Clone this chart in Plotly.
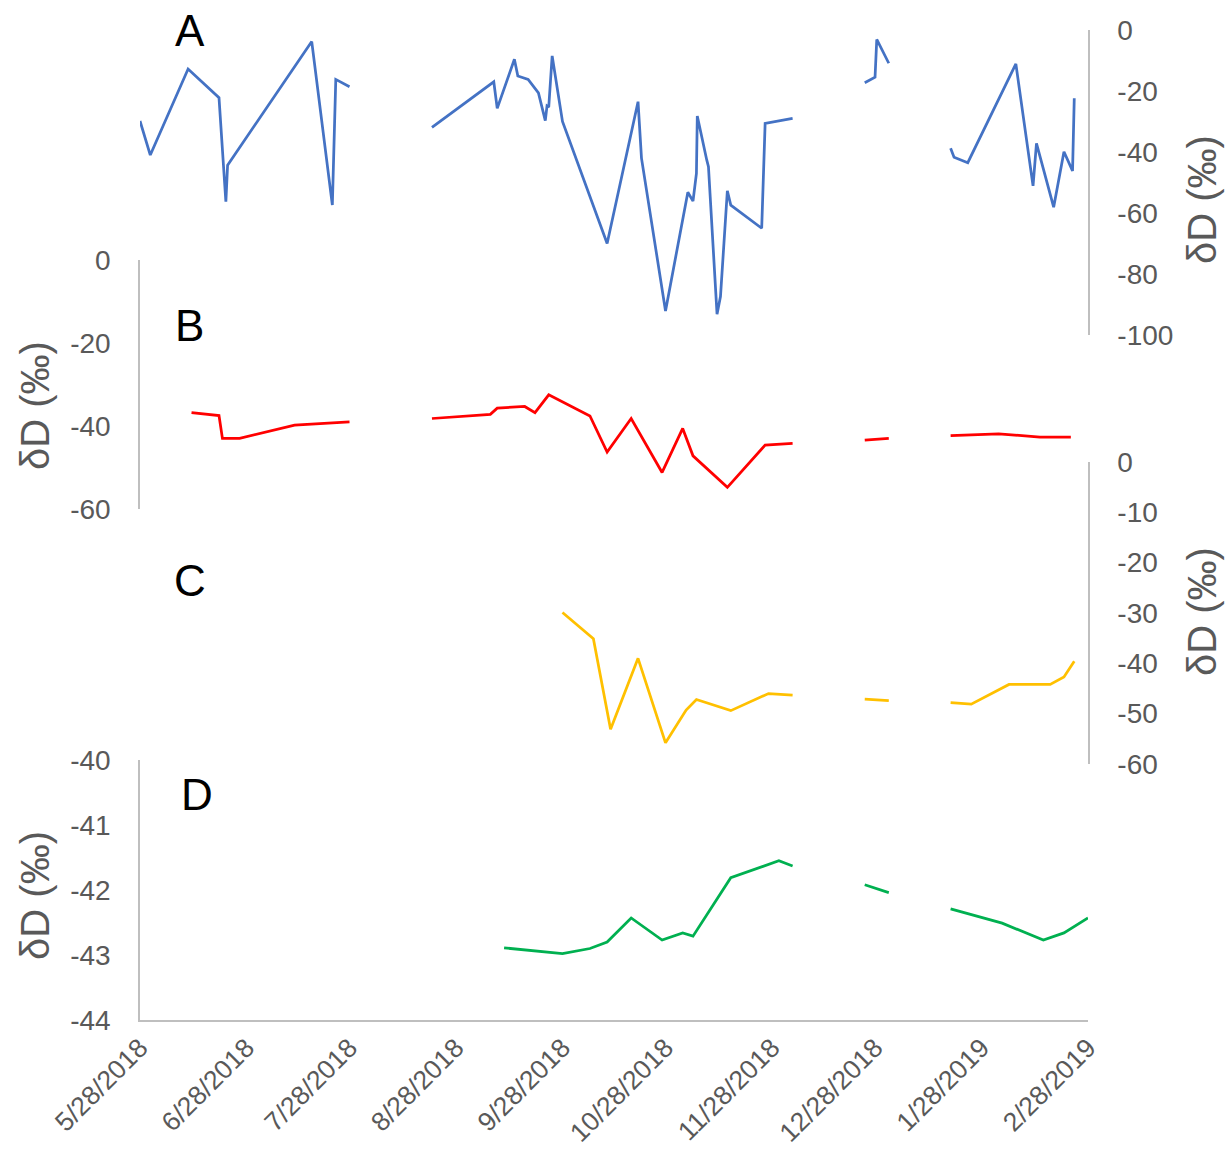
import plotly.graph_objects as go

# ---------------- data ----------------
dates_a = ["2018-05-28", "2018-05-31", "2018-06-11", "2018-06-20", "2018-06-22", "2018-06-22 12:00",
           "2018-07-17", "2018-07-23", "2018-07-24", "2018-07-28", "2018-08-10",
           "2018-08-21", "2018-09-08", "2018-09-09", "2018-09-14", "2018-09-15", "2018-09-18",
           "2018-09-21", "2018-09-22", "2018-09-23", "2018-09-23 12:00", "2018-09-24", "2018-09-25",
           "2018-09-28", "2018-10-11", "2018-10-20", "2018-10-21", "2018-10-28", "2018-11-03 12:00",
           "2018-11-05", "2018-11-06", "2018-11-06 06:00", "2018-11-09", "2018-11-09 12:00",
           "2018-11-12", "2018-11-13", "2018-11-15", "2018-11-16", "2018-11-25", "2018-11-26",
           "2018-12-04", "2018-12-15",
           "2018-12-25", "2018-12-28", "2018-12-28 12:00", "2019-01-01", "2019-01-10",
           "2019-01-19", "2019-01-20", "2019-01-24", "2019-02-07", "2019-02-12", "2019-02-13",
           "2019-02-18", "2019-02-21", "2019-02-23 12:00", "2019-02-24"]
values_a = [-29.8, -41.0, -12.8, -22.2, -56.3, -44.3,
            -3.8, -57.4, -16.2, -18.6, None,
            -31.9, -17.0, -25.7, -9.6, -15.1, -16.2,
            -20.6, -24.9, -29.7, -24.9, -25.3, -8.5,
            -30.0, -70.0, -23.5, -42.0, -92.1, -53.2,
            -56.1, -47.0, -28.2, -42.6, -44.8,
            -93.2, -87.4, -52.7, -57.4, -65.0, -30.6,
            -29.0, None,
            -17.3, -15.5, -3.1, -10.9, None,
            -38.8, -41.7, -43.5, -11.1, -51.1, -37.2,
            -58.1, -39.9, -46.2, -22.4]

dates_b = ["2018-06-12", "2018-06-20", "2018-06-21", "2018-06-26", "2018-07-12", "2018-07-28",
           "2018-08-10",
           "2018-08-21", "2018-09-07", "2018-09-09", "2018-09-17", "2018-09-20", "2018-09-24",
           "2018-10-06", "2018-10-11", "2018-10-18", "2018-10-27", "2018-11-02", "2018-11-05",
           "2018-11-15", "2018-11-26", "2018-12-04", "2018-12-15",
           "2018-12-25", "2019-01-01", "2019-01-10",
           "2019-01-19", "2019-02-02", "2019-02-14", "2019-02-23"]
values_b = [-36.8, -37.5, -43.0, -43.0, -39.8, -39.0,
            None,
            -38.2, -37.2, -35.7, -35.3, -36.8, -32.5,
            -37.6, -46.3, -38.2, -51.2, -40.6, -47.2,
            -54.8, -44.6, -44.2, None,
            -43.4, -43.0, None,
            -42.3, -41.9, -42.7, -42.7]

dates_c = ["2018-09-28", "2018-10-07", "2018-10-12", "2018-10-20", "2018-10-28", "2018-11-03",
           "2018-11-06", "2018-11-16", "2018-11-27", "2018-12-04", "2018-12-15",
           "2018-12-25", "2019-01-01", "2019-01-10",
           "2019-01-19", "2019-01-25", "2019-02-05", "2019-02-17", "2019-02-21", "2019-02-24"]
values_c = [-29.9, -35.1, -53.1, -39.0, -55.8, -49.3,
            -47.2, -49.4, -46.0, -46.3, None,
            -47.1, -47.4, None,
            -47.8, -48.1, -44.2, -44.2, -42.7, -39.6]

dates_d = ["2018-09-11", "2018-09-28", "2018-10-06", "2018-10-11", "2018-10-18", "2018-10-27",
           "2018-11-02", "2018-11-05", "2018-11-16", "2018-11-30", "2018-12-04", "2018-12-15",
           "2018-12-25", "2019-01-01", "2019-01-10",
           "2019-01-19", "2019-02-03", "2019-02-15", "2019-02-21", "2019-02-28"]
values_d = [-42.89, -42.98, -42.90, -42.80, -42.43, -42.77,
            -42.66, -42.71, -41.81, -41.55, -41.63, None,
            -41.92, -42.04, None,
            -42.29, -42.51, -42.77, -42.66, -42.43]

tick_dates = ["2018-05-28", "2018-06-28", "2018-07-28", "2018-08-28", "2018-09-28",
              "2018-10-28", "2018-11-28", "2018-12-28", "2019-01-28", "2019-02-28"]
tick_labels = ["5/28/2018", "6/28/2018", "7/28/2018", "8/28/2018", "9/28/2018",
               "10/28/2018", "11/28/2018", "12/28/2018", "1/28/2019", "2/28/2019"]

ticks_a = [0, -20, -40, -60, -80, -100]
ticks_b = [0, -20, -40, -60]
ticks_c = [0, -10, -20, -30, -40, -50, -60]
ticks_d = [-40, -41, -42, -43, -44]

panel_letters = ["A", "B", "C", "D"]
axis_title = "δD (‰)"

# ---------------- figure ----------------
FONT = "Liberation Sans, Arial, sans-serif"
GREY = "#595959"
LINE = "#BFBFBF"


def labels(vals):
    return [str(v) for v in vals]


fig = go.Figure()
fig.add_trace(go.Scatter(x=dates_a, y=values_a, mode="lines", yaxis="y",
                         line=dict(color="#4472C4", width=2.75), connectgaps=False,
                         showlegend=False, cliponaxis=False))
fig.add_trace(go.Scatter(x=dates_b, y=values_b, mode="lines", yaxis="y2",
                         line=dict(color="#FF0000", width=2.75), connectgaps=False, showlegend=False))
fig.add_trace(go.Scatter(x=dates_c, y=values_c, mode="lines", yaxis="y3",
                         line=dict(color="#FFC000", width=2.75), connectgaps=False, showlegend=False))
fig.add_trace(go.Scatter(x=dates_d, y=values_d, mode="lines", yaxis="y4",
                         line=dict(color="#00B050", width=2.75), connectgaps=False, showlegend=False))

tickfont = dict(family=FONT, size=28, color=GREY)
xtickfont = dict(family=FONT, size=26.5, color=GREY)
common_y = dict(showgrid=False, zeroline=False, showline=True, linecolor=LINE, linewidth=1.5,
                ticks="", tickfont=tickfont, anchor="x", fixedrange=True, automargin=False,
                ticklabelstandoff=22)

fig.update_layout(
    width=1231, height=1151,
    margin=dict(l=140, r=143, t=30, b=131, autoexpand=False),
    paper_bgcolor="white", plot_bgcolor="rgba(0,0,0,0)",
    xaxis=dict(range=["2018-05-28", "2019-02-28"], tickvals=tick_dates, ticktext=tick_labels,
               tickangle=-45, tickfont=xtickfont, showgrid=False, zeroline=False,
               showline=True, linecolor=LINE, linewidth=1.5, ticks="", anchor="y4",
               automargin=False),
    yaxis=dict(domain=[0.6919, 1.0], range=[-100, 0], side="right",
               tickvals=ticks_a, ticktext=labels(ticks_a), **common_y),
    yaxis2=dict(domain=[0.5162, 0.7677], range=[-60, 0], side="left",
                tickvals=ticks_b, ticktext=labels(ticks_b), **common_y),
    yaxis3=dict(domain=[0.2586, 0.5636], range=[-60, 0], side="right",
                tickvals=ticks_c, ticktext=labels(ticks_c), **common_y),
    yaxis4=dict(domain=[0.0, 0.2626], range=[-44, -40], side="left",
                tickvals=ticks_d, ticktext=labels(ticks_d), **common_y),
)

title_font = dict(family=FONT, size=40, color=GREY)
for xp, yp in [(1.1203, 0.8283), (-0.1108, 0.6212), (1.1203, 0.4121), (-0.1108, 0.1263)]:
    fig.add_annotation(x=xp, y=yp, xref="paper", yref="paper", text=axis_title,
                       textangle=-90, showarrow=False, font=title_font,
                       xanchor="center", yanchor="middle")

letter_font = dict(family=FONT, size=44, color="black")
for letter, xp, yp in zip(panel_letters, [0.0527, 0.0527, 0.0527, 0.0601],
                          [0.999, 0.702, 0.4444, 0.2273]):
    fig.add_annotation(x=xp, y=yp, xref="paper", yref="paper", text=letter,
                       showarrow=False, font=letter_font, xanchor="center", yanchor="middle")

fig.write_html("out.html")
